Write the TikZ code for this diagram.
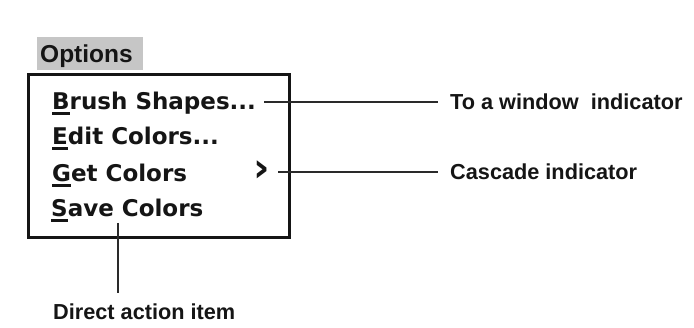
\documentclass[tikz,border=0pt]{standalone}
\usepackage{fontspec}
\newfontfamily\menufont{DejaVu Sans}
\newfontfamily\notefont{Liberation Sans}
% first letter of a menu entry carries a short thick mnemonic bar
\newcommand\mnemo[1]{\setbox0\hbox{#1}\rlap{\rule[-5pt]{\wd0}{2.5pt}}\box0}
\definecolor{ink}{HTML}{151515}
\definecolor{barfill}{HTML}{C6C6C6}
\definecolor{leader}{HTML}{2A2A2A}
\tikzset{
  menuitem/.style={anchor=base west, inner sep=0pt, text=ink,
    font=\menufont\bfseries\fontsize{23}{23}\selectfont},
  menutitle/.style={anchor=base west, inner sep=0pt, text=ink,
    font=\notefont\bfseries\fontsize{24.5}{24.5}\selectfont},
  note/.style={inner sep=0pt, text=ink,
    font=\notefont\bfseries\fontsize{21.7}{21.7}\selectfont},
  leaderline/.style={draw=leader, line width=1.2pt},
  frame/.style={draw=ink, line width=3pt}
}
\begin{document}
\begin{tikzpicture}[x=1pt, y=-1pt]
  \useasboundingbox[fill=white] (0,0) rectangle (694,328);

  % menu bar title
  \fill[barfill] (37,37) rectangle (143,70);
  \node[menutitle] (title) at (40,63) {Options};

  % drop-down frame
  \draw[frame] (28.5,74.5) rectangle (289.5,237.5);

  % entries
  \node[menuitem] (brush) at (52,110) {\mnemo{B}rush Shapes...};
  \node[menuitem] (edit)  at (52,145) {\mnemo{E}dit Colors...};
  \node[menuitem] (get)   at (52,182) {\mnemo{G}et Colors};
  \node[menuitem] (save)  at (51,217) {\mnemo{S}ave Colors};
  \node[inner sep=0pt, text=ink, font=\menufont\bfseries\fontsize{40}{40}\selectfont]
    (chev) at (262,171) {›};

  % callout labels
  \node[note, anchor=west] (towin)   at (450,102) {To a window\ \ indicator};
  \node[note, anchor=west] (cascade) at (450,172) {Cascade indicator};
  \node[note, anchor=base west] (direct) at (53,320) {Direct action item};

  % leaders
  \draw[leaderline] ([xshift=8pt]brush.east |- towin.west) -- ([xshift=-12pt]towin.west);
  \draw[leaderline] ([xshift=8pt]chev.east |- cascade.west) -- ([xshift=-12pt]cascade.west);
  \coordinate (savehook) at (118,223);
  \draw[leaderline] (savehook) -- ([yshift=11pt]savehook |- direct.north);
\end{tikzpicture}
\end{document}
